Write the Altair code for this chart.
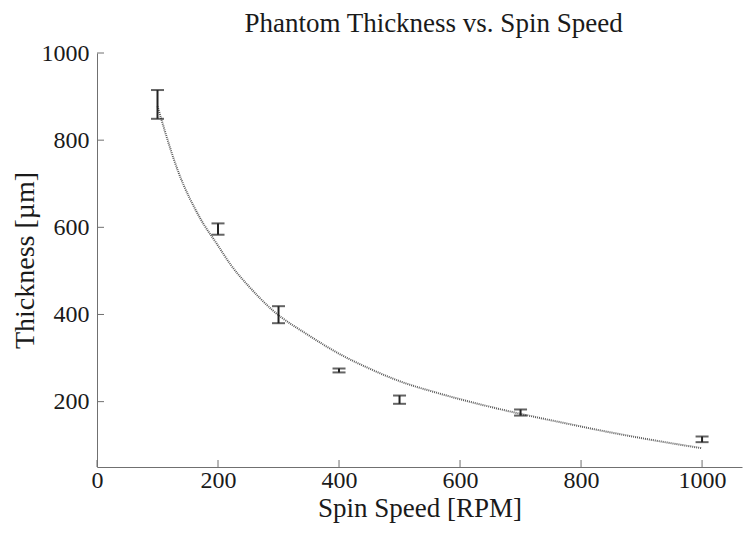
import altair as alt
import pandas as pd

# Error bar data (Spin speed in RPM, thickness in µm)
speeds = [100, 200, 300, 400, 500, 700, 1000]
thick_lo = [849, 583, 380, 267, 195, 168, 107]
thick_hi = [915, 609, 419, 276, 214, 182, 120]

# Fitted curve
fit_x = [100, 135, 170, 200, 220, 250, 290, 350, 400, 450, 500, 565, 650, 700, 765, 850, 930, 1000]
fit_y = [878, 725, 622, 558, 516, 466, 410, 352, 310, 276, 247, 219, 188, 172, 153, 129, 109, 93]

x_ticks = [0, 200, 400, 600, 800, 1000]
y_ticks = [200, 400, 600, 800, 1000]

W, H = 645, 414
FONT = "Liberation Serif"
TXT = "#1a1a1a"
AX = "#707070"

xs = alt.Scale(domain=[0, 1066], nice=False, zero=False)
ys = alt.Scale(domain=[50, 1000], nice=False, zero=False)

err_df = pd.DataFrame({"x": speeds, "lo": thick_lo, "hi": thick_hi})
fit_df = pd.DataFrame({"x": fit_x, "y": fit_y})
xt_df = pd.DataFrame({"t": x_ticks})
yt_df = pd.DataFrame({"t": y_ticks})

xax = alt.Axis(values=x_ticks, ticks=False, grid=False, domainColor=AX, domainWidth=1, format="d",
               labelFont=FONT, labelFontSize=24, labelColor=TXT, labelPadding=1,
               titleFont=FONT, titleFontSize=27, titleFontWeight="normal", titleColor=TXT,
               titlePadding=3, labelFlush=False)
yax = alt.Axis(values=y_ticks, ticks=False, grid=False, domainColor=AX, domainWidth=1, format="d",
               labelFont=FONT, labelFontSize=24, labelColor=TXT, labelPadding=8,
               titleFont=FONT, titleFontSize=28, titleFontWeight="normal", titleColor=TXT,
               titlePadding=2, labelFlush=False)

base_axes = alt.Chart(fit_df).mark_line(opacity=0).encode(
    x=alt.X("x:Q", scale=xs, axis=xax, title="Spin Speed [RPM]"),
    y=alt.Y("y:Q", scale=ys, axis=yax, title="Thickness [µm]"),
)

fit = alt.Chart(fit_df).mark_line(color="#5a5a5a", strokeWidth=2, strokeDash=[1, 1],
                                  interpolate="monotone").encode(
    x=alt.X("x:Q", scale=xs), y=alt.Y("y:Q", scale=ys))

bars = alt.Chart(err_df).mark_rule(color="#222222", strokeWidth=2).encode(
    x=alt.X("x:Q", scale=xs), y=alt.Y("lo:Q", scale=ys), y2="hi:Q")
cap_lo = alt.Chart(err_df).mark_tick(color="#222222", thickness=2, size=13, orient="horizontal").encode(
    x=alt.X("x:Q", scale=xs), y=alt.Y("lo:Q", scale=ys))
cap_hi = alt.Chart(err_df).mark_tick(color="#222222", thickness=2, size=13, orient="horizontal").encode(
    x=alt.X("x:Q", scale=xs), y=alt.Y("hi:Q", scale=ys))

xticks = alt.Chart(xt_df).mark_rule(color=AX, strokeWidth=1).encode(
    x=alt.X("t:Q", scale=xs), y=alt.value(H), y2=alt.value(H - 7))
yticks = alt.Chart(yt_df).mark_rule(color=AX, strokeWidth=1).encode(
    y=alt.Y("t:Q", scale=ys), x=alt.value(0), x2=alt.value(7))

chart = alt.layer(base_axes, fit, bars, cap_lo, cap_hi, xticks, yticks).properties(
    width=W, height=H,
    title=alt.TitleParams("Phantom Thickness vs. Spin Speed", font=FONT, fontSize=27,
                          fontWeight="normal", color=TXT, dx=14, offset=3),
    autosize=alt.AutoSizeParams(type="none"),
    padding={"left": 89, "top": 45, "right": 3, "bottom": 59},
).configure_view(stroke=None)

chart.save("out.html", embed_options={"renderer": "svg", "actions": False})
